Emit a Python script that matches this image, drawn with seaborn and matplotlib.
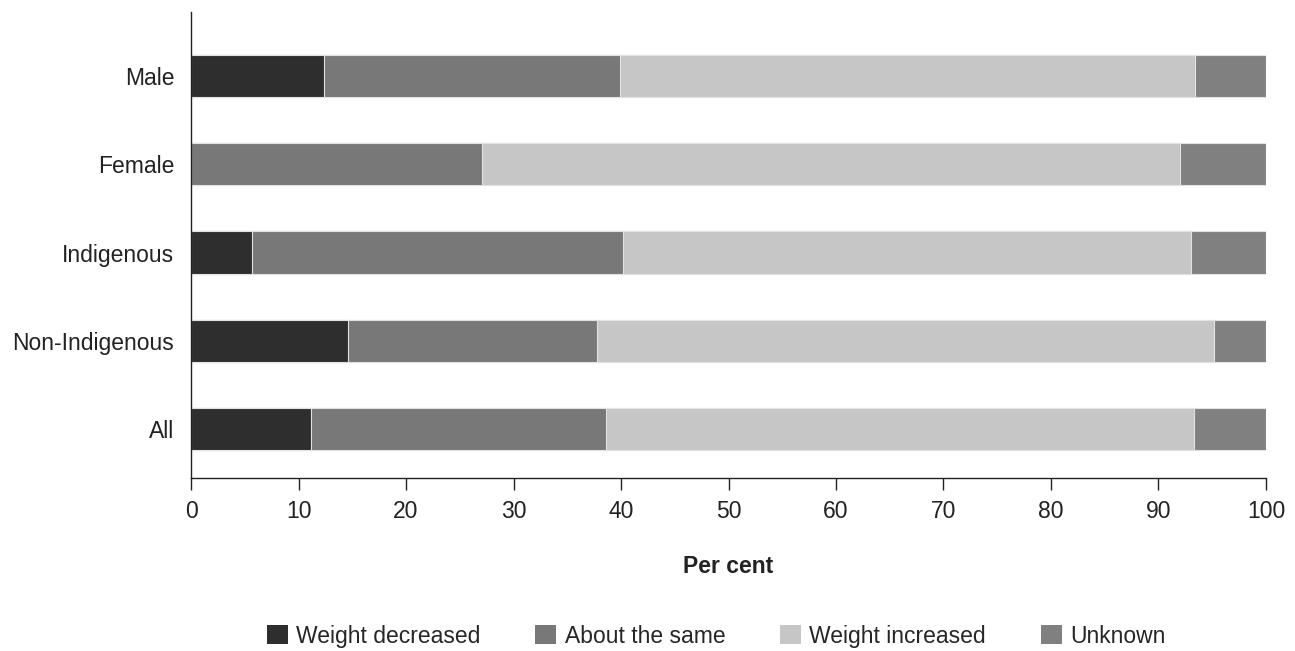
import numpy as np
import pandas as pd
import seaborn as sns
import matplotlib.pyplot as plt
from matplotlib.patches import Patch

groups = ['Male', 'Female', 'Indigenous', 'Non-Indigenous', 'All']
weight_decreased = [12.4, 0.0, 5.7, 14.6, 11.2]
about_the_same = [27.5, 27.1, 34.5, 23.2, 27.4]
weight_increased = [53.5, 64.9, 52.8, 57.4, 54.7]
unknown = [6.6, 8.0, 7.0, 4.8, 6.7]

series_names = ['Weight decreased', 'About the same', 'Weight increased', 'Unknown']
colors = ['#2e2e2e', '#787878', '#c6c6c6', '#808080']

sns.set_style('white')
plt.rcParams['font.family'] = ['Liberation Sans', 'DejaVu Sans']

df = pd.DataFrame({
    'group': groups,
    'Weight decreased': weight_decreased,
    'About the same': about_the_same,
    'Weight increased': weight_increased,
    'Unknown': unknown,
})
# cumulative totals so the stacked bars can be drawn back to front
cum = df[series_names].cumsum(axis=1)

fig = plt.figure(figsize=(12.95, 6.51), dpi=100)
ax = fig.add_axes([0.1475, 0.2657, 0.8301, 0.7159])

for name, col in reversed(list(zip(series_names, colors))):
    sns.barplot(x=cum[name], y=df['group'], orient='h', color=col, width=0.48,
                edgecolor='#e2e2e2', linewidth=0.8, ax=ax, saturation=1)

fs = 16.5
ax.set_xlim(0, 100)
ax.set_ylim(4.555, -0.725)
ax.set_xticks(np.arange(0, 101, 10))
sns.despine(ax=ax)
for s in ['left', 'bottom']:
    ax.spines[s].set_color('#222222')
    ax.spines[s].set_linewidth(1.0)
ax.tick_params(axis='x', which='both', bottom=True, length=8.5, width=1,
               color='#222222', labelsize=fs, labelcolor='#222222', pad=7)
ax.tick_params(axis='y', which='both', left=False, length=0, labelsize=fs,
               labelcolor='#222222', pad=12)
ax.set_ylabel('')
ax.set_xlabel('Per cent', fontsize=fs, fontweight='bold', color='#222222', labelpad=23)

handles = [Patch(facecolor=c, edgecolor='none') for c in colors]
fig.legend(handles, series_names, loc='center', bbox_to_anchor=(0.553, 0.023),
           ncol=4, frameon=False, fontsize=fs, handlelength=0.92, handleheight=0.92,
           handletextpad=0.35, columnspacing=2.4)

plt.savefig('out.png', dpi=100)
